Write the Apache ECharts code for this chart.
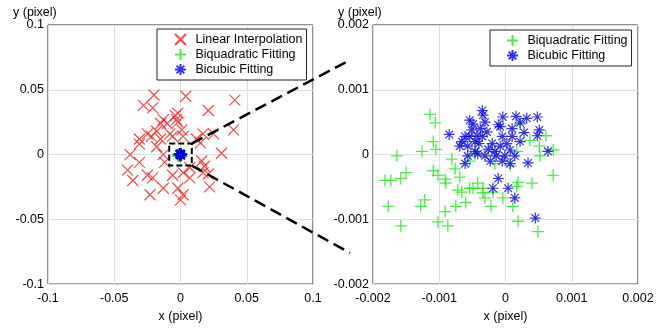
<!DOCTYPE html>
<html>
<head>
<meta charset="utf-8">
<script src="https://cdn.jsdelivr.net/npm/echarts@6/dist/echarts.min.js"></script>
<style>
  html, body { margin: 0; padding: 0; background: #fff; }
  #chart { width: 671px; height: 328px; }
</style>
</head>
<body>
<div id="chart"></div>
<script>
// axis ticks
const leftTicks = [-0.1, -0.05, 0, 0.05, 0.1]
const rightTicks = [-0.002, -0.001, 0, 0.001, 0.002]
const zoomBox = [-0.0085, 0.0085]

// errors, [x, y] in pixel units
const linearPts = [
  [-0.020, 0.046], [0.004, 0.045], [0.041, 0.042], [-0.028, 0.038], [-0.021, 0.036],
  [0.021, 0.034], [-0.002, 0.032], [-0.004, 0.030], [-0.003, 0.027], [-0.013, 0.027],
  [-0.015, 0.024], [-0.010, 0.024], [-0.002, 0.025], [0.040, 0.019], [-0.025, 0.016],
  [-0.018, 0.018], [-0.008, 0.016], [0.001, 0.019], [-0.006, 0.014], [0.017, 0.016],
  [0.025, 0.016], [-0.031, 0.012], [-0.022, 0.014], [-0.015, 0.012], [0.002, 0.014],
  [0.012, 0.012], [-0.031, 0.008], [0.015, 0.009], [-0.018, 0.006], [-0.038, 0.000],
  [0.031, 0.001], [0.016, -0.005], [-0.040, -0.012], [-0.031, -0.006], [-0.036, -0.020],
  [-0.025, -0.016], [-0.021, -0.018], [-0.006, -0.016], [0.002, -0.014], [0.007, -0.018],
  [0.017, -0.014], [0.021, -0.015], [0.022, -0.025], [-0.013, -0.026], [-0.002, -0.026],
  [0.002, -0.031], [-0.023, -0.031], [0.000, -0.035], [-0.012, -0.006], [0.007, -0.010],
  [-0.013, 0.000], [0.018, -0.009]
]

const biquadPts = [
  [-0.00114, 0.00062], [-0.00106, 0.00049], [-0.00109, 0.00020], [-0.00105, 0.00008],
  [-0.00126, 0.00005], [-0.00164, -0.00002], [-0.00081, -0.00007], [0.00037, 0.00022],
  [0.00051, 0.00013], [0.00061, 0.00029], [0.00072, 0.00007], [0.00022, 0.00047],
  [-0.00182, -0.00040], [-0.00173, -0.00040], [-0.00158, -0.00037], [-0.00150, -0.00028],
  [-0.00109, -0.00025], [-0.00102, -0.00032], [-0.00091, -0.00038], [-0.00090, -0.00044],
  [-0.00076, -0.00022], [-0.00069, -0.00035], [-0.00072, -0.00055], [-0.00060, -0.00074],
  [-0.00075, -0.00080], [-0.00091, -0.00088], [-0.00128, -0.00080], [-0.00122, -0.00070],
  [-0.00177, -0.00080], [-0.00158, -0.00110], [-0.00102, -0.00104], [-0.00087, -0.00110],
  [-0.00049, -0.00052], [-0.00042, -0.00044], [-0.00034, -0.00059], [-0.00031, -0.00067],
  [-0.00022, -0.00080], [0.00072, -0.00032], [0.00040, -0.00044], [0.00019, -0.00043],
  [0.00017, -0.00049], [-0.00004, -0.00067], [0.00011, -0.00080], [0.00019, -0.00103],
  [0.00049, -0.00119], [0.00017, 0.00005], [-0.00054, -0.00010], [-0.00066, -0.00058],
  [-0.00054, -0.00052], [-0.00034, -0.00052], [-0.00019, -0.00058], [-0.00046, 0.00001],
  [-0.00016, -0.00014], [0.00007, -0.00017], [0.00052, -0.00002]
]

const bicubicPts = [
  [-0.00035, 0.00068], [-0.00054, 0.00053], [-0.00031, 0.00050], [-0.00004, 0.00058],
  [0.00016, 0.00059], [0.00032, 0.00056], [0.00048, 0.00058], [-0.00011, 0.00046],
  [0.00051, 0.00038], [0.00028, 0.00034], [0.00048, 0.00029], [-0.00085, 0.00031],
  [-0.00066, 0.00020], [-0.00051, 0.00038], [-0.00043, 0.00029], [-0.00057, 0.00013],
  [-0.00040, 0.00017], [-0.00026, 0.00008], [-0.00020, 0.00017], [-0.00005, 0.00028],
  [0.00002, 0.00017], [0.00007, 0.00007], [-0.00014, -0.00002], [-0.00031, -0.00002],
  [0.00064, 0.00005], [-0.00061, -0.00014], [0.00007, -0.00014], [0.00034, -0.00013],
  [-0.00011, -0.00037], [0.00004, -0.00052], [-0.00019, -0.00052], [0.00014, -0.00067],
  [0.00045, -0.00098], [-0.00049, 0.00047], [-0.00038, 0.00040], [-0.00054, 0.00028],
  [0.00022, 0.00049], [0.00010, 0.00040], [-0.00008, 0.00043], [-0.00034, 0.00061],
  [-0.00046, 0.00005], [-0.00023, -0.00010], [-0.00005, -0.00010], [-0.00061, 0.00028],
  [0.00022, 0.00020], [-0.00035, 0.00028], [-0.00046, 0.00020], [-0.00016, 0.00005],
  [-0.00001, -0.00002], [0.00014, -0.00002], [-0.00069, 0.00013], [-0.00028, 0.00035],
  [-0.00042, 0.00001], [-0.00008, 0.00013], [0.00010, 0.00028], [-0.00057, -0.00002]
]

const font = "'Liberation Sans', Arial, sans-serif"
const crossSym = 'path://M0,0L10,10M10,0L0,10'
const plusSym = 'path://M5,0L5,10M0,5L10,5'
const starSym = 'path://M5,0L5,10M0,5L10,5M1.5,1.5L8.5,8.5M8.5,1.5L1.5,8.5'

const chart = echarts.init(document.getElementById('chart'))

const makeAxis = (ticks, gridIndex, name, margin) => ({
  type: 'value',
  gridIndex,
  min: ticks[0],
  max: ticks[ticks.length - 1],
  interval: ticks[1] - ticks[0],
  name,
  axisLine: { show: false },
  axisTick: { show: false },
  axisLabel: { color: '#000', fontSize: 12.5, fontFamily: font, margin },
  splitLine: { lineStyle: { color: '#dedede', width: 1 } },
})

const markerStyle = (color, width) => ({
  color: 'rgba(0,0,0,0)',
  borderColor: color,
  borderWidth: width,
})

const legendBase = {
  orient: 'vertical',
  selectedMode: false,
  backgroundColor: '#fff',
  borderColor: '#222',
  borderWidth: 1,
  itemWidth: 20,
  itemHeight: 11,
  itemGap: 2,
  textStyle: { color: '#000', fontSize: 12.5, fontFamily: font, lineHeight: 12.5 },
}

const nameStyle = { color: '#000', fontSize: 12.5, fontFamily: font }

chart.setOption({
  animation: false,
  grid: [
    { left: 48, top: 25, width: 265, height: 267, show: true, borderColor: '#222', borderWidth: 1 },
    { left: 373, top: 25, width: 265, height: 267, show: true, borderColor: '#222', borderWidth: 1 },
  ],
  xAxis: [
    { ...makeAxis(leftTicks, 0, 'x (pixel)', 8), nameLocation: 'middle', nameGap: 25, nameTextStyle: nameStyle },
    { ...makeAxis(rightTicks, 1, 'x (pixel)', 8), nameLocation: 'middle', nameGap: 25, nameTextStyle: nameStyle },
  ],
  yAxis: [makeAxis(leftTicks, 0, '', 4), makeAxis(rightTicks, 1, '', 4)],
  legend: [
    { ...legendBase, left: 157, top: 29, padding: [4, 4, 4, 17],
      data: ['Linear Interpolation', 'Biquadratic Fitting', 'Bicubic Fitting'] },
    { ...legendBase, left: 490, top: 30, padding: [4, 4, 4, 16],
      data: ['Biquadratic Fitting', 'Bicubic Fitting'] },
  ],
  series: [
    { name: 'Linear Interpolation', type: 'scatter', xAxisIndex: 0, yAxisIndex: 0,
      symbol: crossSym, symbolSize: 11, itemStyle: markerStyle('#ff1a1a', 1.2), data: linearPts },
    { name: 'Biquadratic Fitting', type: 'scatter', xAxisIndex: 0, yAxisIndex: 0,
      symbol: plusSym, symbolSize: 12, itemStyle: markerStyle('#1ee81e', 1.3), data: biquadPts },
    { name: 'Bicubic Fitting', type: 'scatter', xAxisIndex: 0, yAxisIndex: 0,
      symbol: starSym, symbolSize: 11, itemStyle: markerStyle('#0000e8', 1.2), data: bicubicPts },
    { name: 'Biquadratic Fitting', type: 'scatter', xAxisIndex: 1, yAxisIndex: 1,
      symbol: plusSym, symbolSize: 12, itemStyle: markerStyle('#1ee81e', 1.3), data: biquadPts },
    { name: 'Bicubic Fitting', type: 'scatter', xAxisIndex: 1, yAxisIndex: 1,
      symbol: starSym, symbolSize: 11, itemStyle: markerStyle('#0000e8', 1.2), data: bicubicPts },
  ],
})

// zoom box around the origin and the two dashed connectors
const tl = chart.convertToPixel({ gridIndex: 0 }, [zoomBox[0], zoomBox[1]])
const br = chart.convertToPixel({ gridIndex: 0 }, [zoomBox[1], zoomBox[0]])
const gapX = 350

chart.setOption({
  graphic: [
    { type: 'rect', z: 10, shape: { x: tl[0], y: tl[1], width: br[0] - tl[0], height: br[1] - tl[1] },
      style: { fill: 'none', stroke: '#000', lineWidth: 2, lineDash: [6, 3] } },
    { type: 'line', z: 10, shape: { x1: br[0], y1: tl[1], x2: gapX, y2: 60 },
      style: { stroke: '#000', lineWidth: 2.5, lineDash: [12, 6] } },
    { type: 'line', z: 10, shape: { x1: br[0], y1: br[1], x2: gapX, y2: 253 },
      style: { stroke: '#000', lineWidth: 2.5, lineDash: [12, 6] } },
    { type: 'text', left: 13, top: 6,
      style: { text: 'y (pixel)', fill: '#000', font: `12.5px ${font}` } },
    { type: 'text', left: 338, top: 6,
      style: { text: 'y (pixel)', fill: '#000', font: `12.5px ${font}` } },
  ],
})
</script>
</body>
</html>
